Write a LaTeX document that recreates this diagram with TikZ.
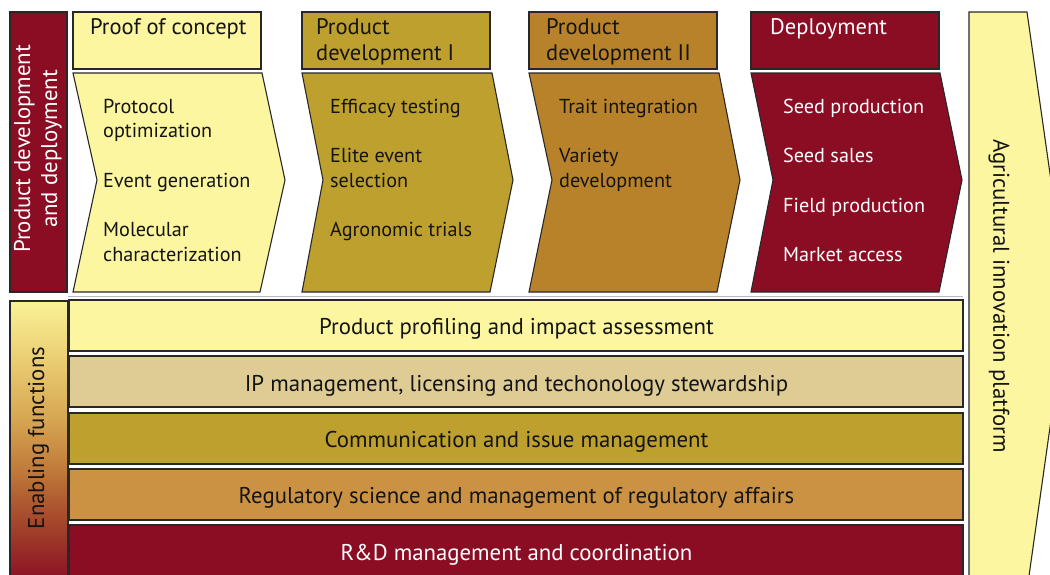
\documentclass[tikz,border=0pt]{standalone}
\usepackage{fontspec}
\setmainfont{PT Sans}
\definecolor{cyel}{RGB}{252,246,160}
\definecolor{colive}{RGB}{190,160,46}
\definecolor{cbrown}{RGB}{184,130,42}
\definecolor{cred}{RGB}{139,13,36}
\definecolor{ctan}{RGB}{222,204,148}
\definecolor{corange}{RGB}{204,146,68}
\definecolor{cedge}{RGB}{40,40,40}
\definecolor{ctext}{RGB}{20,20,20}
\definecolor{g1}{RGB}{250,242,150}
\definecolor{g2}{RGB}{234,205,115}
\definecolor{g3}{RGB}{214,165,82}
\definecolor{g4}{RGB}{192,122,58}
\definecolor{g5}{RGB}{165,72,44}
\definecolor{g6}{RGB}{142,22,38}
\pgfdeclareverticalshading{enabshade}{100bp}{color(0bp)=(cred); color(25bp)=(cred); color(27.8bp)=(g6); color(37.1bp)=(g5); color(45.8bp)=(g4); color(54.4bp)=(g3); color(64.8bp)=(g2); color(75bp)=(g1); color(100bp)=(g1)}
\tikzset{
  shapebox/.style={draw=cedge, line width=1.1pt, line join=miter},
  lbl/.style={anchor=base west, inner sep=0pt, font=\fontsize{20.2}{24}\selectfont, text=ctext},
  lblw/.style={lbl, text=white},
  hdr/.style={anchor=base west, inner sep=0pt, font=\fontsize{22.5}{26}\selectfont, text=ctext},
  bandtxt/.style={inner sep=0pt, font=\fontsize{22.8}{26}\selectfont, text=ctext},
  sidetxt/.style={inner sep=0pt, align=center, font=\fontsize{22.8}{27}\selectfont},
}
\begin{document}
\begin{tikzpicture}[x=1pt,y=-1pt]
\useasboundingbox (0,0) rectangle (1050,574);
\clip (0,0) rectangle (1050,574);
% right platform chevron
\path[shapebox, fill=cyel] (969,12) -- (1027,12) -- (1068,300) -- (1027,590) -- (969,590) -- cycle;
\node[sidetxt, rotate=-90, text=ctext] (agri) at (999,296) {Agricultural innovation platform};
% left top bar
\path[shapebox, fill=cred] (10,12) rectangle (67,292);
\node[sidetxt, rotate=90, text=white] (pdd) at (38,149) {Product development\\and deployment};
% headers
\path[shapebox, fill=cyel] (73,12) rectangle (261,69);
\path[shapebox, fill=colive] (302,12) rectangle (490,69);
\path[shapebox, fill=cbrown] (529,12) rectangle (717,69);
\path[shapebox, fill=cred] (751,12) rectangle (939,69);
\node[hdr] (h1) at (90,34) {Proof of concept};
\node[hdr] (h2a) at (316,34) {Product};
\node[hdr] (h2b) at (316,60.5) {development I};
\node[hdr] (h3a) at (546,34) {Product};
\node[hdr] (h3b) at (546,60.5) {development II};
\node[hdr, text=white] (h4) at (770,34) {Deployment};
% chevrons
\path[shapebox, fill=cyel] (73,73) -- (262,73) -- (285,180) -- (260,292) -- (73,292) -- (97,180) -- cycle;
\path[shapebox, fill=colive] (302,73) -- (492,73) -- (513,180) -- (490,292) -- (302,292) -- (323,180) -- cycle;
\path[shapebox, fill=cbrown] (529,73) -- (719,73) -- (740,180) -- (717,292) -- (529,292) -- (552,180) -- cycle;
\path[shapebox, fill=cred] (751,73) -- (940,73) -- (962,180) -- (939,292) -- (751,292) -- (773,180) -- cycle;
% chevron texts
\node[lbl] (c1a) at (103,113) {Protocol};
\node[lbl] (c1b) at (103,137.5) {optimization};
\node[lbl] (c1c) at (103,187) {Event generation};
\node[lbl] (c1d) at (103,236.5) {Molecular};
\node[lbl] (c1e) at (103,261) {characterization};
\node[lbl] (c2a) at (330,113) {Efficacy testing};
\node[lbl] (c2b) at (330,162.5) {Elite event};
\node[lbl] (c2c) at (330,187) {selection};
\node[lbl] (c2d) at (330,236.5) {Agronomic trials};
\node[lbl] (c3a) at (559,113) {Trait integration};
\node[lbl] (c3b) at (559,162.5) {Variety};
\node[lbl] (c3c) at (559,187) {development};
\node[lblw] (c4a) at (783,113) {Seed production};
\node[lblw] (c4b) at (783,162.5) {Seed sales};
\node[lblw] (c4c) at (783,212) {Field production};
\node[lblw] (c4d) at (783,261) {Market access};
% separator line
\draw[gray!55, line width=0.8pt] (68,296.5) -- (963,296.5);
% enabling bar
\path[shapebox, shading=enabshade] (10,301) rectangle (68,590);
\draw[shapebox] (10,301) rectangle (68,590);
\node[sidetxt, rotate=90, text=ctext] (enab) at (38.5,438) {Enabling functions};
% bands
\path[shapebox, fill=cyel] (69,300) rectangle (963,351);
\path[shapebox, fill=ctan] (69,356) rectangle (963,407);
\path[shapebox, fill=colive] (69,413) rectangle (963,464);
\path[shapebox, fill=corange] (69,469) rectangle (963,520);
\path[shapebox, fill=cred] (69,525) rectangle (963,590);
\node[bandtxt] (b1) at (516.5,328.5) {Product profiling and impact assessment};
\node[bandtxt] (b2) at (516.5,385.5) {IP management, licensing and techonology stewardship};
\node[bandtxt] (b3) at (516.5,441.5) {Communication and issue management};
\node[bandtxt] (b4) at (516.5,498) {Regulatory science and management of regulatory affairs};
\node[bandtxt, text=white] (b5) at (516.5,554.5) {R\&D management and coordination};
\end{tikzpicture}
\end{document}
